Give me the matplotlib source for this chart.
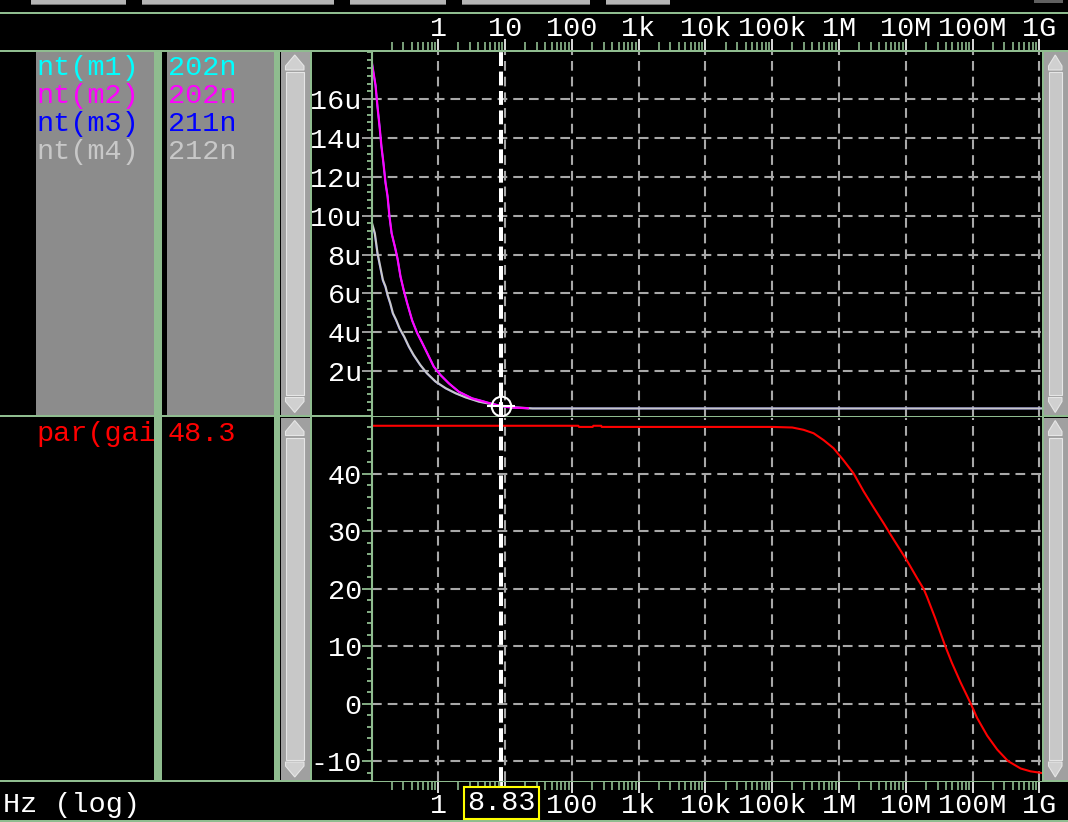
import matplotlib
matplotlib.use("Agg")
import matplotlib.pyplot as plt
from matplotlib.patches import Rectangle, Polygon
from matplotlib.ticker import FixedLocator, FixedFormatter, LogLocator, MultipleLocator, NullLocator, FuncFormatter
from matplotlib.transforms import blended_transform_factory

# ---------------- data ----------------
decade_ticks_hz = [1, 10, 100, 1e3, 1e4, 1e5, 1e6, 1e7, 1e8, 1e9]
top_tick_labels = ["1", "10", "100", "1k", "10k", "100k", "1M", "10M", "100M", "1G"]
bottom_tick_labels = ["1", "", "100", "1k", "10k", "100k", "1M", "10M", "100M", "1G"]

noise_freq_m12_hz = [0.1, 0.115, 0.123, 0.132, 0.141, 0.151, 0.162, 0.174, 0.186, 0.2,
                     0.224, 0.245, 0.272, 0.302, 0.342, 0.407, 0.483, 0.575, 0.682, 0.857,
                     1.08, 1.44, 2.03, 3.21, 4.54, 6.3, 8.83, 12.0, 22.0]
noise_m1_uV = [18.0, 16.7, 15.6, 14.6, 13.55, 12.7, 11.7, 11.0, 9.95, 9.1,
               8.4, 7.8, 6.86, 6.2, 5.5, 4.6, 3.96, 3.45, 2.93, 2.23,
               1.8, 1.37, 0.94, 0.6, 0.46, 0.32, 0.2, 0.13, 0.09]
noise_m2_uV = [18.0, 16.7, 15.6, 14.6, 13.55, 12.7, 11.7, 11.0, 9.95, 9.1,
               8.4, 7.8, 6.86, 6.2, 5.5, 4.6, 3.96, 3.45, 2.93, 2.23,
               1.8, 1.37, 0.94, 0.6, 0.46, 0.32, 0.2, 0.13, 0.09]

noise_freq_m34_hz = [0.1, 0.112, 0.123, 0.135, 0.148, 0.162, 0.174, 0.191, 0.209, 0.234,
                     0.263, 0.309, 0.363, 0.427, 0.537, 0.676, 0.912, 1.29, 1.82, 2.57,
                     4.07, 7.24, 12.9, 25.7, 1e3, 1e6, 1.1e9]
noise_m3_uV = [9.6, 9.05, 8.02, 7.33, 6.65, 6.31, 5.88, 5.46, 4.95, 4.6,
               4.17, 3.75, 3.24, 2.81, 2.31, 1.88, 1.45, 1.11, 0.86, 0.65,
               0.43, 0.26, 0.14, 0.08, 0.08, 0.08, 0.08]
noise_m4_uV = [9.7, 9.1, 8.07, 7.38, 6.69, 6.35, 5.92, 5.49, 4.98, 4.63,
               4.2, 3.77, 3.26, 2.83, 2.32, 1.89, 1.46, 1.12, 0.86, 0.65,
               0.43, 0.26, 0.14, 0.08, 0.08, 0.08, 0.08]

gain_freq_hz = [0.1, 125, 128, 205, 210, 275, 280, 1e4, 1e5, 2.0e5, 2.95e5, 4.17e5, 5.9e5,
                8.3e5, 1.17e6, 1.66e6, 2.34e6, 3.3e6, 4.7e6, 5.5e6, 6.6e6, 1.05e7, 1.48e7,
                1.86e7, 2.09e7, 2.75e7, 3.9e7, 4.9e7, 6.6e7, 9.4e7, 1.17e8, 1.66e8, 2.34e8,
                3.39e8, 5.25e8, 7.4e8, 9.8e8, 1.1e9]
gain_db = [48.3, 48.3, 48.1, 48.1, 48.3, 48.3, 48.1, 48.1, 48.1, 48.0, 47.6, 47.0, 45.8,
           44.4, 42.3, 40.0, 36.9, 34.1, 31.3, 30.0, 28.5, 24.8, 21.8,
           19.9, 18.5, 14.9, 10.0, 7.1, 3.7, 0.0, -2.5, -5.6, -8.0,
           -10.0, -11.3, -11.8, -12.0, -12.1]

trace_names = ["nt(m1)", "nt(m2)", "nt(m3)", "nt(m4)"]
trace_values = ["202n", "202n", "211n", "212n"]
gain_name = "par(gai"
gain_value = "48.3"
cursor_freq_hz = 8.83
cursor_label = "8.83"
cursor_noise_uV = 0.2
noise_yticks_uV = [2, 4, 6, 8, 10, 12, 14, 16]
gain_yticks_db = [-10, 0, 10, 20, 30, 40]
x_axis_title = "Hz (log)"

# ---------------- style ----------------
W, H = 1068, 822
GREEN = "#8fbc8f"
GRID = "#a8a8a8"
PANEL = "#8c8c8c"
C_CYAN, C_MAG, C_BLUE, C_GREY, C_RED = "#00ffff", "#ff00ff", "#0000ff", "#c8c8c8", "#ff0000"
trace_colors = [C_CYAN, C_MAG, C_BLUE, C_GREY]
FS = 20.5
plt.rcParams["font.family"] = ["Liberation Mono", "DejaVu Sans Mono"]
plt.rcParams["lines.scale_dashes"] = False

X_LEFT, X_RIGHT = 371.5, 1042.0
PX_PER_DEC = 66.78
XMIN = 0.1
XMAX = 10 ** (-1 + (X_RIGHT - X_LEFT) / PX_PER_DEC)
GRID_STYLE = (0, (7, 4.3))


def frac(x0, y0, x1, y1):
    return [x0 / W, 1 - y1 / H, (x1 - x0) / W, (y1 - y0) / H]


fig = plt.figure(figsize=(W / 100, H / 100), dpi=100, facecolor="black")

ui = fig.add_axes([0, 0, 1, 1])
ui.set_xlim(0, W)
ui.set_ylim(H, 0)
ui.axis("off")
ui.set_facecolor("black")

# toolbar remnants
for bx0, bx1 in [(31, 126), (142, 334), (350, 446), (462, 590), (606, 670)]:
    ui.add_patch(Rectangle((bx0, 0), bx1 - bx0, 5, fc="#b4b4b4", ec="none"))
    ui.add_patch(Rectangle((bx0, 4), bx1 - bx0, 1.2, fc="#707070", ec="none"))
ui.add_patch(Rectangle((1034, 0), 29, 3, fc="#606060", ec="none"))

# grey name/value panels
ui.add_patch(Rectangle((36, 52), 118, 363, fc=PANEL, ec="none"))
ui.add_patch(Rectangle((167, 52), 107, 363, fc=PANEL, ec="none"))

# trace list texts (drawn under the green bars so that long names get cut)
for i, (nm, val, col) in enumerate(zip(trace_names, trace_values, trace_colors)):
    yy = 68 + 28 * i
    ui.text(36, yy, nm, color=col, fontsize=FS, va="center", ha="left", zorder=1.5)
    ui.text(168, yy, val, color=col, fontsize=FS, va="center", ha="left", zorder=1.5)
ui.text(36, 434, gain_name, color=C_RED, fontsize=FS, va="center", ha="left", zorder=1.5)
ui.text(168, 434, gain_value, color=C_RED, fontsize=FS, va="center", ha="left", zorder=1.5)
ui.text(3, 805, x_axis_title, color="white", fontsize=FS, va="center", ha="left", zorder=1.5)

# green separators
for yy in [13, 51, 416.3, 781, 820.5]:
    ui.add_patch(Rectangle((0, yy - 1), W, 2, fc=GREEN, ec="none", zorder=2))
ui.add_patch(Rectangle((154, 51), 8, 730, fc=GREEN, ec="none", zorder=2))
ui.add_patch(Rectangle((274, 51), 6, 730, fc=GREEN, ec="none", zorder=2))
ui.add_patch(Rectangle((310, 51), 2, 730, fc=GREEN, ec="none", zorder=2))
ui.add_patch(Rectangle((1041.5, 51), 2, 730, fc=GREEN, ec="none", zorder=2))


def scrollbar(x0, x1, y0, y1):
    ui.add_patch(Rectangle((x0, y0), x1 - x0, y1 - y0, fc="#a0a0a0", ec="none", zorder=2))
    xi0, xi1 = x0 + 5, x1 - 6
    xc = (xi0 + xi1) / 2
    ui.add_patch(Polygon([(xc, y0 + 3), (xi1, y0 + 14), (xi1, y0 + 18), (xi0, y0 + 18), (xi0, y0 + 14)],
                         closed=True, fc="#d0d0d0", ec="#e6e6e6", lw=0.8, zorder=2))
    ui.add_patch(Polygon([(xc, y1 - 3), (xi1, y1 - 14), (xi1, y1 - 18), (xi0, y1 - 18), (xi0, y1 - 14)],
                         closed=True, fc="#d0d0d0", ec="#e6e6e6", lw=0.8, zorder=2))
    ui.add_patch(Rectangle((xi0, y0 + 20), xi1 - xi0, y1 - y0 - 40, fc="#c8c8c8", ec="#e6e6e6", lw=0.8, zorder=2))


scrollbar(280.5, 310, 52, 415.5)
scrollbar(280.5, 310, 417.5, 780)
scrollbar(1043.5, 1068, 52, 415.5)
scrollbar(1043.5, 1068, 417.5, 780)


# ---------------- data axes ----------------
def style_data_axes(ax, ylo, yhi, yticks, fmt, minor_step, major_tick_color):
    ax.set_facecolor("black")
    ax.set_xscale("log")
    ax.set_xlim(XMIN, XMAX)
    ax.set_ylim(ylo, yhi)
    for s in ["top", "right", "bottom"]:
        ax.spines[s].set_visible(False)
    ax.spines["left"].set_color(GREEN)
    ax.spines["left"].set_linewidth(1.5)
    ax.xaxis.set_major_locator(FixedLocator(decade_ticks_hz))
    ax.xaxis.set_minor_locator(NullLocator())
    ax.tick_params(axis="x", which="both", length=0, labelbottom=False)
    ax.yaxis.set_major_locator(FixedLocator(yticks))
    ax.yaxis.set_major_formatter(FuncFormatter(fmt))
    ax.yaxis.set_minor_locator(MultipleLocator(minor_step))
    ax.tick_params(axis="y", which="major", direction="out", length=7, width=1.3,
                   color=major_tick_color, labelcolor="white", labelsize=FS, pad=0)
    ax.tick_params(axis="y", which="minor", direction="out", length=3.6, width=1.3, color=GREEN)
    ax.grid(True, which="major", color=GRID, lw=1.5, linestyle=GRID_STYLE)


ax1 = fig.add_axes(frac(X_LEFT, 52, X_RIGHT, 416))
style_data_axes(ax1, (410 - 416) / 19.43, (410 - 52) / 19.43, noise_yticks_uV,
                lambda v, p: f"{v:g}u", 0.4, GRID)
ax1.plot(noise_freq_m12_hz, noise_m1_uV, color=C_CYAN, lw=1.2)
ax1.plot(noise_freq_m34_hz, noise_m3_uV, color=C_BLUE, lw=1.2)
ax1.plot(noise_freq_m34_hz, noise_m4_uV, color=C_GREY, lw=1.6)
ax1.plot(noise_freq_m12_hz, noise_m2_uV, color=C_MAG, lw=1.6)
ax1.axvline(cursor_freq_hz, color="white", lw=2.9, linestyle=(0, (10, 4)), zorder=5)
ax1.plot([cursor_freq_hz], [cursor_noise_uV], marker="o", ms=14, mfc="none", mec="white", mew=1.5, zorder=6)
ax1.plot([cursor_freq_hz], [cursor_noise_uV], marker="+", ms=20, mec="white", mew=1.5, zorder=6)

ax2 = fig.add_axes(frac(X_LEFT, 418, X_RIGHT, 781))
style_data_axes(ax2, (703.5 - 781) / 5.75, (703.5 - 418) / 5.75, gain_yticks_db,
                lambda v, p: f"{v:g}", 2, GREEN)
ax2.plot(gain_freq_hz, gain_db, color=C_RED, lw=1.5)
ax2.axvline(cursor_freq_hz, color="white", lw=2.9, linestyle=(0, (10, 4)), zorder=5)


# ---------------- frequency scale bands ----------------
def style_scale(ax, labels, top_side):
    ax.set_facecolor("none")
    ax.set_xscale("log")
    ax.set_xlim(XMIN, XMAX)
    ax.set_ylim(0, 1)
    for s in ax.spines.values():
        s.set_visible(False)
    ax.yaxis.set_visible(False)
    ax.xaxis.set_major_locator(FixedLocator(decade_ticks_hz))
    ax.xaxis.set_major_formatter(FixedFormatter(labels))
    ax.xaxis.set_minor_locator(LogLocator(base=10, subs=[2, 3, 4, 5, 6, 7, 8, 9], numticks=30))
    if top_side:
        ax.tick_params(axis="x", which="both", bottom=True, top=False, labelbottom=False,
                       labeltop=True, direction="in")
        pad = -3
    else:
        ax.tick_params(axis="x", which="both", bottom=False, top=True, labelbottom=True,
                       labeltop=False, direction="in")
        pad = 0
    ax.tick_params(axis="x", which="major", length=8, width=1.2, color="white",
                   labelcolor="white", labelsize=FS, pad=pad)
    ax.tick_params(axis="x", which="minor", length=5.5, width=1.2, color=GREEN)


axT = fig.add_axes(frac(X_LEFT, 38, X_RIGHT, 50.5))
style_scale(axT, top_tick_labels, True)
axB = fig.add_axes(frac(X_LEFT, 781.5, X_RIGHT, 793))
style_scale(axB, bottom_tick_labels, False)
axB.axvline(cursor_freq_hz, ymin=0.2, color="white", lw=2.0)
axB.text(cursor_freq_hz, -0.85, cursor_label, transform=blended_transform_factory(axB.transData, axB.transAxes),
         ha="center", va="center", color="white", fontsize=FS,
         bbox=dict(boxstyle="square,pad=0.1", fc="black", ec="#ffff00", lw=1.5))

fig.savefig("out.png", dpi=100, facecolor="black")
